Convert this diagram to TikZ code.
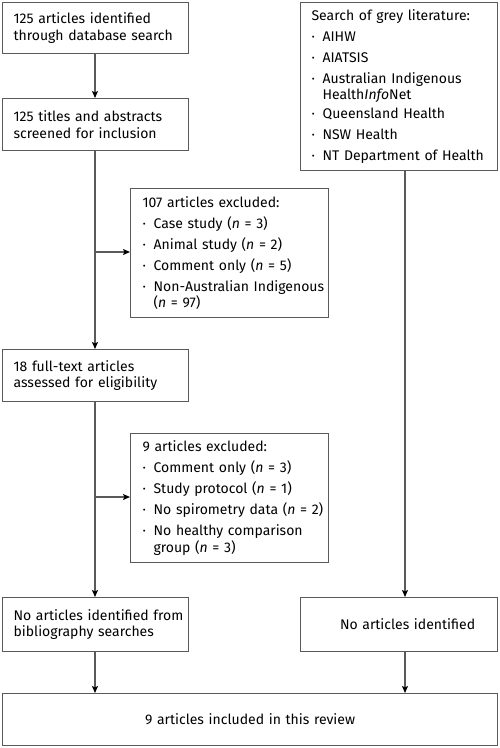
\documentclass[tikz,border=0pt]{standalone}
\usepackage{fontspec}
\setmainfont{Fira Sans}
\usetikzlibrary{arrows.meta}
\definecolor{linegrey}{HTML}{5A5A5A}
\newcommand{\bul}[1]{\par\noindent\makebox[11pt][l]{·}\parbox[t]{190pt}{\raggedright #1}}
\begin{document}
\begin{tikzpicture}[x=1pt,y=-1pt,
  box/.style={draw=linegrey, line width=1.2pt, anchor=north west, inner xsep=11pt, inner ysep=4pt, align=left, font=\fontsize{14}{16.5}\selectfont},
  arr/.style={draw=linegrey, line width=1.2pt, -{Stealth[length=7pt,width=6pt,inset=1.5pt,color=black]}}]
\useasboundingbox (0,0) rectangle (500,748);
\node[box, minimum width=186pt, minimum height=51pt, text width=164pt] (a) at (2,2) {125 articles identified\\through database search};
\node[box, minimum width=186pt, minimum height=52pt, text width=164pt] (b) at (2,98) {125 titles and abstracts\\screened for inclusion};
\node[box, minimum width=197pt, minimum height=168pt, text width=175pt] (g) at (300,2) {%
  \setlength{\parskip}{4.5pt}\noindent Search of grey literature:
  \bul{AIHW}
  \bul{AIATSIS}
  \bul{Australian Indigenous\\Health\textit{Info}Net}
  \bul{Queensland Health}
  \bul{NSW Health}
  \bul{NT Department of Health}\par};
\node[box, inner xsep=12pt, minimum width=198pt, minimum height=129pt, text width=174pt] (e1) at (130,188) {%
  \setlength{\parskip}{4.5pt}\noindent 107 articles excluded:
  \bul{Case study (\textit{n} = 3)}
  \bul{Animal study (\textit{n} = 2)}
  \bul{Comment only (\textit{n} = 5)}
  \bul{Non-Australian Indigenous\\(\textit{n} = 97)}\par};
\node[box, minimum width=186pt, minimum height=52pt, text width=164pt] (c) at (2,349) {18 full-text articles\\assessed for eligibility};
\node[box, inner xsep=12pt, minimum width=198pt, minimum height=129pt, text width=174pt] (e2) at (130,433) {%
  \setlength{\parskip}{4.5pt}\noindent 9 articles excluded:
  \bul{Comment only (\textit{n} = 3)}
  \bul{Study protocol (\textit{n} = 1)}
  \bul{No spirometry data (\textit{n} = 2)}
  \bul{No healthy comparison\\group (\textit{n} = 3)}\par};
\node[box, minimum width=186pt, minimum height=54pt, text width=164pt] (d) at (2,597) {\mbox{No articles identified from}\\bibliography searches};
\node[box, minimum width=197pt, minimum height=54pt, text width=175pt, align=center] (n) at (300,597) {\hspace*{17pt}No articles identified};
\node[box, minimum width=495pt, minimum height=52pt, text width=473pt, align=center] (f) at (2,693) {9 articles included in this review};
\coordinate (j1) at (95,252);
\coordinate (j2) at (95,497);
\coordinate (r) at (405,0);
\draw[arr] (a.south -| j1) -- (b.north -| j1);
\draw[arr] (b.south -| j1) -- (c.north -| j1);
\draw[arr] (c.south -| j1) -- (d.north -| j1);
\draw[arr] (j1) -- (j1 -| e1.west);
\draw[arr] (j2) -- (j2 -| e2.west);
\draw[arr] (g.south -| r) -- (n.north -| r);
\draw[arr] (d.south -| j1) -- (f.north -| j1);
\draw[arr] (n.south -| r) -- (f.north -| r);
\end{tikzpicture}
\end{document}
